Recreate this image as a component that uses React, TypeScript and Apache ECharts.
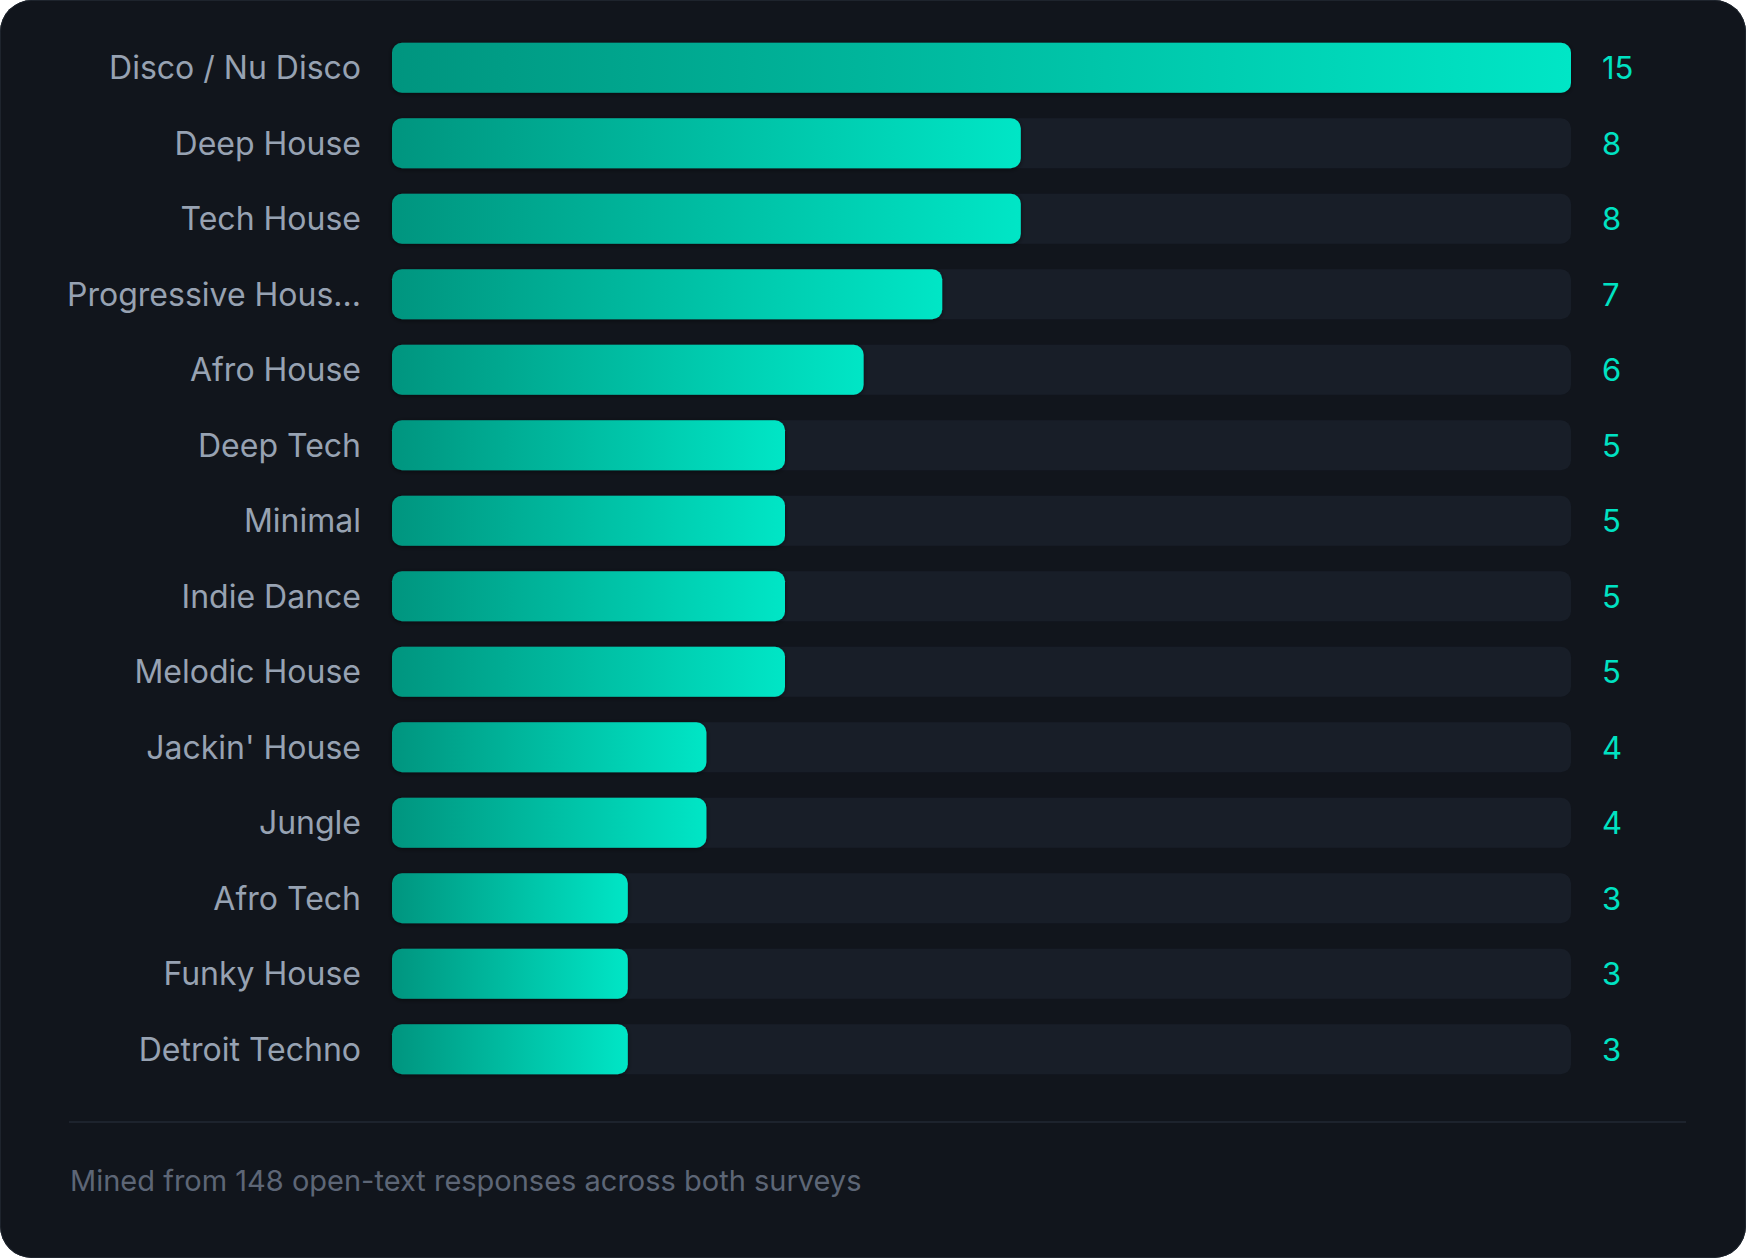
import React, { useEffect, useRef } from "react";
import * as echarts from "echarts";

const categories = [
  "Disco / Nu Disco",
  "Deep House",
  "Tech House",
  "Progressive House",
  "Afro House",
  "Deep Tech",
  "Minimal",
  "Indie Dance",
  "Melodic House",
  "Jackin' House",
  "Jungle",
  "Afro Tech",
  "Funky House",
  "Detroit Techno",
];
const counts = [15, 8, 8, 7, 6, 5, 5, 5, 5, 4, 4, 3, 3, 3];
const axisMax = 15;
const footerText = "Mined from 148 open-text responses across both surveys";

const W = 1746;
const H = 1258;
const FONT = "Inter, 'Noto Sans', sans-serif";

export default function App() {
  const ref = useRef<HTMLDivElement>(null);
  useEffect(() => {
    if (!ref.current) return;
    const chart = echarts.init(ref.current, undefined, { renderer: "svg", width: W, height: H });
    chart.setOption({
      animation: false,
      backgroundColor: "transparent",
      grid: { left: 392, right: 175, top: 30, height: 1057, containLabel: false },
      xAxis: {
        type: "value",
        min: 0,
        max: axisMax,
        show: false,
      },
      yAxis: [
        {
          type: "category",
          data: categories,
          inverse: true,
          axisLine: { show: false },
          axisTick: { show: false },
          splitLine: { show: false },
          axisLabel: {
            color: "#97a2b2",
            fontSize: 32,
            fontFamily: FONT,
            margin: 31,
            formatter: (v: string) => (v.length > 16 ? v.slice(0, 16) + "..." : v),
          },
        },
        {
          type: "category",
          data: counts.map(String),
          inverse: true,
          position: "right",
          axisLine: { show: false },
          axisTick: { show: false },
          splitLine: { show: false },
          axisLabel: {
            color: "#00e2c2",
            fontSize: 31,
            fontFamily: FONT,
            margin: 31,
          },
        },
      ],
      series: [
        {
          type: "bar",
          data: counts,
          barWidth: 50,
          showBackground: true,
          backgroundStyle: { color: "#181e28", borderRadius: 10 },
          itemStyle: {
            borderRadius: 10,
            color: new echarts.graphic.LinearGradient(0, 0, 1, 0, [
              { offset: 0, color: "#00957f" },
              { offset: 1, color: "#00e6c6" },
            ]),
            shadowColor: "rgba(0,0,0,0.55)",
            shadowBlur: 5,
            shadowOffsetY: 1,
          },
        },
      ],
      graphic: [
        {
          type: "line",
          shape: { x1: 69, y1: 1122, x2: 1686, y2: 1122 },
          style: { stroke: "#1d232d", lineWidth: 2 },
        },
        {
          type: "text",
          x: 70,
          y: 1180,
          style: {
            text: footerText,
            fill: "#5d6676",
            fontSize: 29,
            fontFamily: FONT,
            verticalAlign: "middle",
            align: "left",
          },
        },
      ],
    });
    return () => chart.dispose();
  }, []);

  return (
    <div
      style={{
        position: "fixed",
        left: 0,
        top: 0,
        width: W,
        height: H,
        background: "#ffffff",
      }}
    >
      <div
        style={{
          position: "absolute",
          left: 0,
          top: 0,
          width: W,
          height: H,
          borderRadius: 32,
          background: "#11151c",
          boxShadow: "inset 0 0 0 1px #1e242d",
          overflow: "hidden",
        }}
      >
        <div ref={ref} style={{ position: "absolute", left: 0, top: 0, width: W, height: H }} />
      </div>
    </div>
  );
}
